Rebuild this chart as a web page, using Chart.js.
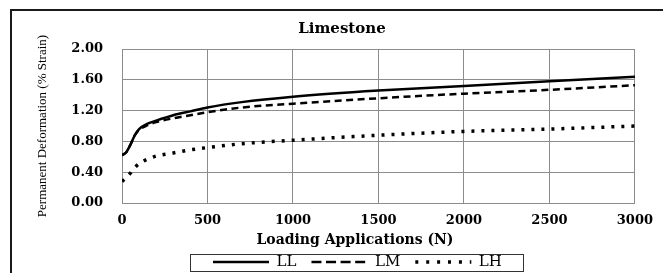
<!DOCTYPE html>
<html>
<head>
<meta charset="utf-8">
<script src="https://cdn.jsdelivr.net/npm/chart.js@4.4.1/dist/chart.umd.min.js"></script>
<style>
  html, body { margin: 0; padding: 0; background: #fff; }
  canvas { display: block; }
</style>
</head>
<body>
<canvas id="grafico" width="663" height="273"></canvas>
<script>
// número de aplicações de carga (eixo x)
const aplicacoes = [0, 25, 50, 75, 100, 150, 200, 300, 400, 500, 700, 1000, 1500, 2000, 2500, 3000]
// deformação permanente (% strain)
const serieLL = [0.62, 0.66, 0.76, 0.88, 0.96, 1.03, 1.07, 1.14, 1.19, 1.24, 1.31, 1.38, 1.46, 1.52, 1.58, 1.64]
const serieLM = [0.62, 0.66, 0.76, 0.88, 0.95, 1.01, 1.05, 1.10, 1.14, 1.18, 1.24, 1.29, 1.36, 1.42, 1.47, 1.53]
const serieLH = [0.28, 0.33, 0.39, 0.46, 0.51, 0.57, 0.61, 0.65, 0.69, 0.72, 0.77, 0.815, 0.88, 0.93, 0.96, 1.00]
const rotulosSeries = ['LL', 'LM', 'LH']
// marcas dos eixos
const ticksX = [0, 500, 1000, 1500, 2000, 2500, 3000]
const ticksY = [0, 0.4, 0.8, 1.2, 1.6, 2.0]

const tituloGrafico = 'Limestone'
const tituloX = 'Loading Applications (N)'
const tituloY = 'Permanent Deformation (% Strain)'

// tracejado das amostras da legenda (largura da amostra = 56)
// o contorno da amostra vai e volta, então 2*56 - traço tem que ser múltiplo do período
const tracosLegenda = [[], [10, 4.57], [3, 7.9]]

Chart.defaults.font.family = 'DejaVu Serif'
Chart.defaults.color = '#000'

const pontos = valores => aplicacoes.map((x, i) => ({ x, y: valores[i] }))

// move título, título do eixo x e legenda para a posição do original
const ajustesLayout = {
  id: 'ajustesLayout',
  afterLayout: grafico => {
    const deslocar = (caixa, dx) => {
      caixa.left += dx
      caixa.right += dx
    }
    grafico.boxes.forEach(caixa => {
      const texto = caixa.options && caixa.options.text
      if (texto === tituloGrafico) deslocar(caixa, 342 - (caixa.left + caixa.right) / 2)
      if (texto === tituloX) deslocar(caixa, 355 - (caixa.left + caixa.right) / 2)
    })
    const legenda = grafico.legend
    const pad = legenda.options.labels.padding
    const inicio = (legenda.left + pad + legenda.right - legenda.lineWidths[0]) / 2
    deslocar(legenda, 213 - inicio)
  },
}

// moldura externa da figura e caixa em volta da legenda
const molduras = {
  id: 'molduras',
  afterDraw: grafico => {
    const ctx = grafico.ctx
    ctx.save()
    ctx.strokeStyle = '#1a1a1a'
    ctx.lineWidth = 2
    ctx.beginPath()
    ctx.moveTo(11, 273)
    ctx.lineTo(11, 10)
    ctx.lineTo(663, 10)
    ctx.stroke()

    const legenda = grafico.legend
    const caixas = legenda.legendHitBoxes
    const rotulos = legenda.options.labels
    ctx.font = Chart.helpers.toFont(rotulos.font).string
    const ultima = caixas[caixas.length - 1]
    const fimTexto = ultima.left + rotulos.boxWidth + rotulos.font.size / 2 +
      ctx.measureText(rotulosSeries[rotulosSeries.length - 1]).width
    const centroY = caixas[0].top + rotulos.font.size / 2
    ctx.strokeStyle = '#333'
    ctx.lineWidth = 1
    ctx.strokeRect(Math.round(caixas[0].left - 23) + 0.5, Math.round(centroY - 8.5) + 0.5,
      Math.round(fimTexto + 21 - caixas[0].left + 23), 17)
    ctx.restore()
  },
}

const grafico = new Chart(document.getElementById('grafico'), {
  type: 'line',
  data: {
    datasets: [
      {
        label: rotulosSeries[0],
        data: pontos(serieLL),
        borderColor: '#000',
        backgroundColor: '#000',
        borderWidth: 2.5,
      },
      {
        label: rotulosSeries[1],
        data: pontos(serieLM),
        borderColor: '#000',
        backgroundColor: '#000',
        borderWidth: 2.5,
        borderDash: [7, 4.5],
      },
      {
        label: rotulosSeries[2],
        data: pontos(serieLH),
        borderColor: '#000',
        backgroundColor: '#000',
        borderWidth: 3.5,
        borderDash: [3, 7],
      },
    ],
  },
  options: {
    responsive: false,
    animation: false,
    events: [],
    layout: { padding: { left: 12, top: 12, right: 27, bottom: 0 } },
    elements: {
      point: { radius: 0 },
      line: { cubicInterpolationMode: 'monotone', fill: false },
    },
    plugins: {
      tooltip: { enabled: false },
      title: {
        display: true,
        text: tituloGrafico,
        font: { size: 15, weight: 'bold' },
        padding: { top: 8.5, bottom: 10.5 },
      },
      subtitle: {
        display: true,
        position: 'bottom',
        text: tituloX,
        font: { size: 14, weight: 'bold' },
        padding: { top: 3, bottom: 0.6 },
      },
      legend: {
        position: 'bottom',
        weight: 3000,
        maxHeight: 24,
        labels: {
          boxWidth: 56,
          boxHeight: 0,
          padding: 5.5,
          font: { size: 15 },
          generateLabels: g =>
            Chart.defaults.plugins.legend.labels.generateLabels(g).map((item, i) => ({
              ...item,
              text: item.text + '  ',
              lineDash: tracosLegenda[i],
            })),
        },
      },
    },
    scales: {
      x: {
        type: 'linear',
        min: 0,
        max: 3000,
        afterBuildTicks: escala => { escala.ticks = ticksX.map(value => ({ value })) },
        afterFit: escala => { escala.height = 25.6 },
        ticks: {
          font: { size: 13, weight: 'bold' },
          padding: 10,
          maxRotation: 0,
          callback: v => String(v),
        },
        grid: { color: '#8c8c8c', drawTicks: false },
        border: { color: '#8c8c8c' },
      },
      y: {
        min: 0,
        max: 2,
        afterBuildTicks: escala => { escala.ticks = ticksY.map(value => ({ value })) },
        afterFit: escala => { escala.width = 110 },
        ticks: {
          font: { size: 13, weight: 'bold' },
          padding: 19,
          callback: v => v.toFixed(2),
        },
        grid: { color: '#8c8c8c', drawTicks: false },
        border: { color: '#8c8c8c' },
        title: {
          display: true,
          text: tituloY,
          font: { family: 'Liberation Serif', size: 13 },
          padding: { top: 23, bottom: 20.4 },
        },
      },
    },
  },
  plugins: [ajustesLayout, molduras],
})
</script>
</body>
</html>
